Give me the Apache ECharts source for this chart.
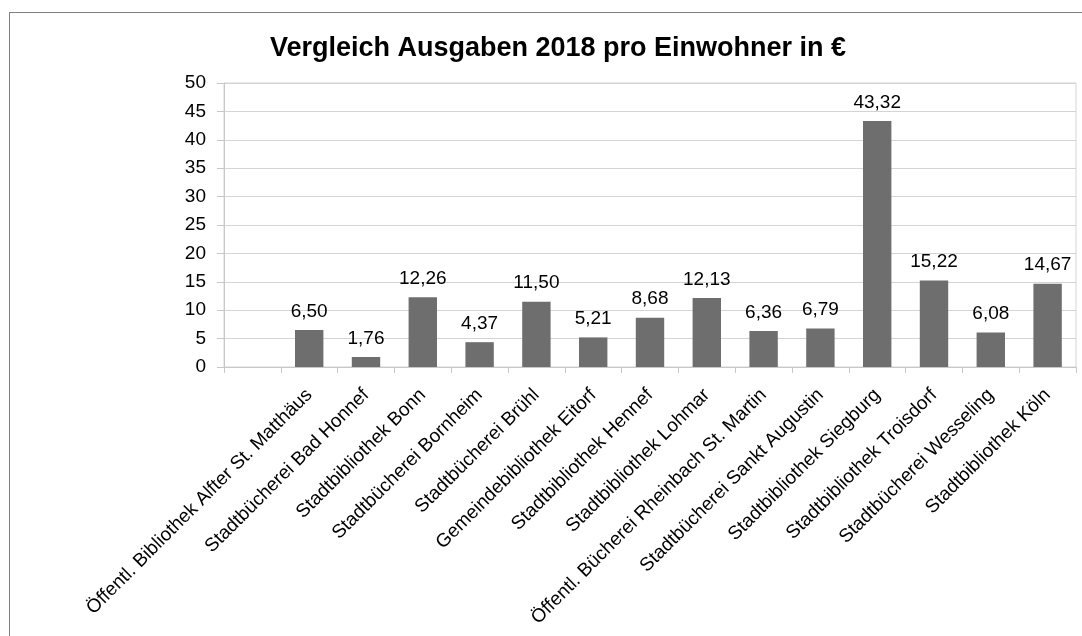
<!DOCTYPE html>
<html>
<head>
<meta charset="utf-8">
<script src="https://cdn.jsdelivr.net/npm/echarts@6/dist/echarts.min.js"></script>
<style>
  html, body { margin: 0; padding: 0; background: #fff; overflow: hidden; }
  #chart { width: 1082px; height: 636px; position: absolute; left: 0; top: 0; }
  /* Rahmen des Diagrammbereichs */
  #frame { position: absolute; left: 9px; top: 12px; width: 2000px; height: 2000px;
           border-left: 1px solid #7f7f7f; border-top: 1px solid #7f7f7f; pointer-events: none; }
</style>
</head>
<body>
<div id="chart"></div>
<div id="frame"></div>
<script>
// Kategorien (erste Kategorie ist leer)
const bibliotheken = [
  '',
  'Öffentl. Bibliothek Alfter St. Matthäus',
  'Stadtbücherei Bad Honnef',
  'Stadtbibliothek Bonn',
  'Stadtbücherei Bornheim',
  'Stadtbücherei Brühl',
  'Gemeindebibliothek Eitorf',
  'Stadtbibliothek Hennef',
  'Stadtbibliothek Lohmar',
  'Öffentl. Bücherei Rheinbach St. Martin',
  'Stadtbücherei Sankt Augustin',
  'Stadtbibliothek Siegburg',
  'Stadtbibliothek Troisdorf',
  'Stadtbücherei Wesseling',
  'Stadtbibliothek Köln'
];

// Ausgaben 2018 pro Einwohner in €
const ausgaben = [null, 6.50, 1.76, 12.26, 4.37, 11.50, 5.21, 8.68, 12.13, 6.36, 6.79, 43.32, 15.22, 6.08, 14.67];

const yTicks = { min: 0, max: 50, interval: 5 };

const fmt = v => v.toFixed(2).replace('.', ',');

const chart = echarts.init(document.getElementById('chart'));

chart.setOption({
  backgroundColor: 'transparent',
  animation: false,
  textStyle: { fontFamily: '"Liberation Sans", Arial, sans-serif' },
  title: {
    text: 'Vergleich Ausgaben 2018 pro Einwohner in €',
    left: 553, top: 30, textAlign: 'center',
    textStyle: { fontSize: 27, fontWeight: 'bold', color: '#000', fontFamily: '"Liberation Sans", Arial, sans-serif' }
  },
  grid: { left: 224, right: 6, top: 83, bottom: 269, show: true, borderColor: '#d4d4d4', borderWidth: 1 },
  xAxis: {
    type: 'category',
    data: bibliotheken,
    axisLine: { lineStyle: { color: '#c8c8c8', width: 1 } },
    axisTick: { show: true, length: 6, lineStyle: { color: '#c8c8c8' } },
    axisLabel: { rotate: 45, interval: 0, margin: 25, fontSize: 19, color: '#000' }
  },
  yAxis: {
    type: 'value',
    min: yTicks.min, max: yTicks.max, interval: yTicks.interval,
    axisLine: { show: true, lineStyle: { color: '#c8c8c8' } },
    axisTick: { show: true, length: 7, lineStyle: { color: '#c8c8c8' } },
    axisLabel: { fontSize: 19, color: '#000', margin: 18 },
    splitLine: { lineStyle: { color: '#d4d4d4', width: 1 } }
  },
  series: [{
    type: 'bar',
    data: ausgaben,
    barWidth: '50%',
    itemStyle: { color: '#6e6e6e' },
    label: {
      show: true, position: 'top', distance: 9,
      fontSize: 19, color: '#000',
      formatter: p => p.value == null ? '' : fmt(p.value)
    }
  }]
});
</script>
</body>
</html>
